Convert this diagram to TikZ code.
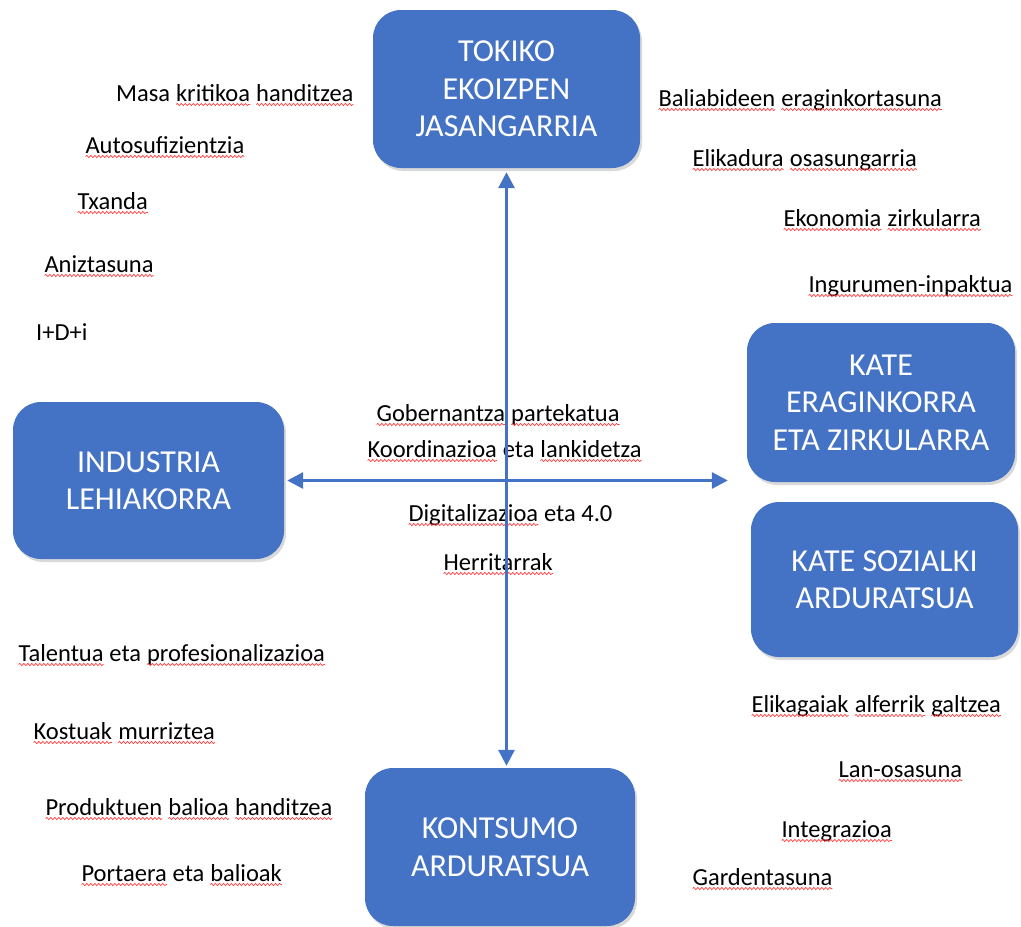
\documentclass[tikz,border=0pt]{standalone}
\usepackage{fontspec}
\setmainfont{Carlito}
\usetikzlibrary{arrows.meta, shadows, decorations.pathmorphing}

\definecolor{boxblue}{RGB}{68,114,196}
\newcommand{\spl}[1]{\tikz[baseline=(sw.base), x=1pt, y=1pt]{%
    \node[anchor=base, inner sep=0pt, outer sep=0pt] (sw) {#1};
    \draw[red!75, line width=0.7pt, decorate, decoration={snake, segment length=4pt, amplitude=1.1pt}]
      ([yshift=-3.5pt]sw.base west) -- ([yshift=-3.5pt]sw.base east);}}

\begin{document}
\begin{tikzpicture}[x=1pt, y=-1pt,
    box/.style={fill=boxblue, text=white, rounded corners=28pt, align=center, inner sep=0pt,
      font=\fontsize{32}{37.5}\selectfont,
      drop shadow={shadow xshift=2pt, shadow yshift=-3pt, opacity=0.3}},
    lbl/.style={anchor=base west, inner sep=0pt, font=\fontsize{24.5}{29}\selectfont},
    link/.style={{Triangle[length=16pt,width=16pt]}-{Triangle[length=16pt,width=16pt]},
      draw=boxblue, line width=3pt}]
    \useasboundingbox (0,0) rectangle (1021,927);

    \node[box, minimum width=267pt, minimum height=158pt] (tokiko) at (506.5,89) {TOKIKO\\EKOIZPEN\\JASANGARRIA};
    \node[box, minimum width=271pt, minimum height=157pt] (industria) at (148.5,480.5) {INDUSTRIA\\LEHIAKORRA};
    \node[box, minimum width=268pt, minimum height=159pt] (kate) at (881,402.5) {KATE\\ERAGINKORRA\\ETA ZIRKULARRA};
    \node[box, minimum width=267pt, minimum height=155pt] (sozial) at (884.5,579.5) {KATE SOZIALKI\\ARDURATSUA};
    \node[box, minimum width=270pt, minimum height=158pt] (kontsumo) at (500,847) {KONTSUMO\\ARDURATSUA};

    % goiko ezkerra
    \node[lbl] (masa) at (116,101) {Masa \spl{kritikoa} \spl{handitzea}};
    \node[lbl] (auto) at (85,153) {\spl{Autosufizientzia}};
    \node[lbl] (txanda) at (77,209) {\spl{Txanda}};
    \node[lbl] (aniz) at (44,272) {\spl{Aniztasuna}};
    \node[lbl] (idi) at (36,340) {I+D+i};

    % goiko eskuina
    \node[lbl] (bali) at (658,106) {\spl{Baliabideen} \spl{eraginkortasuna}};
    \node[lbl] (elik) at (692,166) {\spl{Elikadura} \spl{osasungarria}};
    \node[lbl] (ekon) at (783,226) {\spl{Ekonomia} \spl{zirkularra}};
    \node[lbl] (ingu) at (808,292) {\spl{Ingurumen-inpaktua}};

    % erdia
    \node[lbl] (gober) at (376,421) {\spl{Gobernantza} \spl{partekatua}};
    \node[lbl] (koord) at (367,457) {\spl{Koordinazioa} eta \spl{lankidetza}};
    \node[lbl] (digi) at (408,521) {\spl{Digitalizazioa} eta 4.0};
    \node[lbl] (herri) at (443,570) {\spl{Herritarrak}};

    % beheko ezkerra
    \node[lbl] (talen) at (18,661) {\spl{Talentua} eta \spl{profesionalizazioa}};
    \node[lbl] (kost) at (33,739) {\spl{Kostuak} \spl{murriztea}};
    \node[lbl] (prod) at (45,815) {\spl{Produktuen} \spl{balioa} \spl{handitzea}};
    \node[lbl] (port) at (81,881) {\spl{Portaera} eta \spl{balioak}};

    % beheko eskuina
    \node[lbl] (elikag) at (751,712) {\spl{Elikagaiak} \spl{alferrik} \spl{galtzea}};
    \node[lbl] (lan) at (838,777) {\spl{Lan-osasuna}};
    \node[lbl] (integ) at (781,837) {\spl{Integrazioa}};
    \node[lbl] (gard) at (692,885) {\spl{Gardentasuna}};

    \draw[link, shorten <=4pt, shorten >=2pt] (tokiko.south) -- (tokiko.south |- kontsumo.north);
    \draw[link, shorten <=3pt, shorten >=19pt] (industria.east) -- (industria.east -| kate.west);
\end{tikzpicture}
\end{document}
